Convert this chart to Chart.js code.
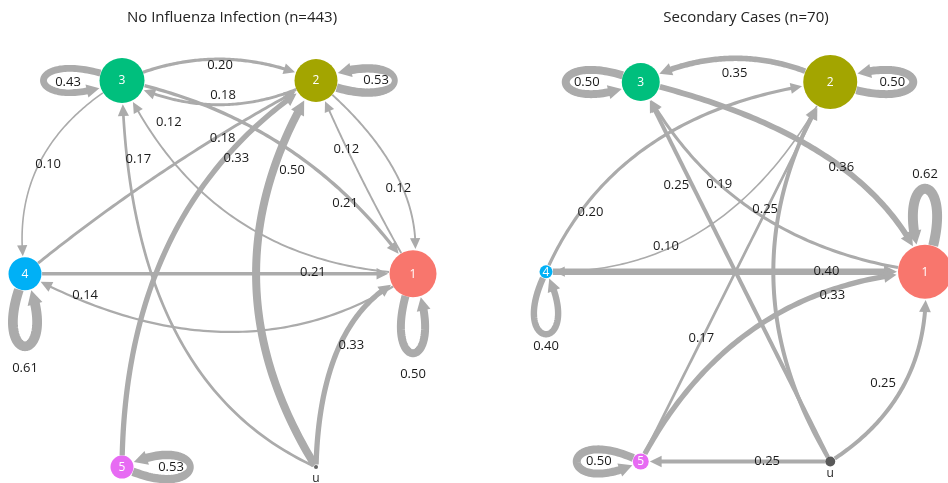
<!DOCTYPE html>
<html>
<head>
<meta charset="utf-8">
<script src="https://cdn.jsdelivr.net/npm/chart.js@4.4.0/dist/chart.umd.min.js"></script>
<style>
  body { margin: 0; background: #fff; }
  #wrap { position: relative; width: 948px; height: 483px; }
  #wrap canvas { position: absolute; top: 0; }
</style>
</head>
<body>
<div id="wrap">
  <canvas id="noFlu" width="474" height="483" style="left:0"></canvas>
  <canvas id="secondary" width="474" height="483" style="left:474px"></canvas>
</div>
<script>
// nodes sit on a circle, node k at k*60 degrees
const nodeIds = ["1", "2", "3", "4", "5", "u"];
const layoutX = [1, 0.5, -0.5, -1, -0.5, 0.5];
const layoutY = [0, 0.866, 0.866, 0, -0.866, -0.866];
const nodeColors = ["#F8766D", "#A3A500", "#00BF7D", "#00B0F6", "#E76BF3", "#595959"];

// No Influenza Infection (n=443)
const noFluFrom = ["3", "2", "3", "4", "1", "3", "u", "5", "u", "2", "1", "4", "1", "u", "3", "2", "4", "1", "5"];
const noFluTo   = ["2", "3", "4", "2", "3", "1", "3", "2", "2", "1", "2", "1", "4", "1", "3", "2", "4", "1", "5"];
const noFluProb = [0.20, 0.18, 0.10, 0.18, 0.12, 0.21, 0.17, 0.33, 0.50, 0.12, 0.12, 0.21, 0.14, 0.33, 0.43, 0.53, 0.61, 0.50, 0.53];

// Secondary Cases (n=70)
const secFrom = ["2", "3", "1", "u", "u", "5", "4", "2", "4", "5", "u", "u", "3", "2", "1", "4", "5"];
const secTo   = ["3", "1", "3", "3", "2", "2", "2", "4", "1", "1", "1", "5", "3", "2", "1", "4", "5"];
const secProb = [0.35, 0.36, 0.19, 0.25, 0.25, 0.17, 0.20, 0.10, 0.40, 0.33, 0.25, 0.25, 0.50, 0.50, 0.62, 0.40, 0.50];

// drawing styles (curvature, label placement, loop direction) -- not data
const noFluStyle = [
  { bend: 0.22, t: 0.5, dx: 1, dy: 6 },
  { bend: 0.25, t: 0.5, dx: 4, dy: -9 },
  { bend: -0.34, skew: 0.03, t: 0.5, dx: 9, dy: 1 },
  { bend: 0.05, t: 0.68, dx: 4, dy: 2 },
  { bend: 0.3, t: 0.85, dx: 18, dy: -9 },
  { bend: 0.2, t: 0.72, dx: -2, dy: 7 },
  { bend: 0.3, skew: -0.13, t: 0.86, dx: 11, dy: -1 },
  { bend: 0.27, skew: 0.05, t: 0.73, dx: 10, dy: 2 },
  { bend: 0.31, t: 0.75, dx: 21, dy: -7 },
  { bend: 0.275, skew: 0.1375, t: 0.55, dx: -4, dy: 2 },
  { bend: 0.03, t: 0.66, dx: 0, dy: 2 },
  { bend: 0, t: 0.742, dx: 0, dy: -1 },
  { bend: 0.3, skew: -0.06, t: 0.85, dx: -4, dy: -8 },
  { bend: 0.31, skew: 0.16, t: 0.5, dx: 9, dy: 5 },
  { loop: 180, lab: 54, dy: 2 },
  { loop: 0, lab: 60 },
  { loop: 90, lab: 95 },
  { loop: 90, lab: 101 },
  { loop: 0, lab: 49 }
];
const secStyle = [
  { bend: -0.25, t: 0.5, dx: -1, dy: 15 },
  { bend: 0.24, skew: 0.154, t: 0.55, dx: 0, dy: 0 },
  { bend: 0.26, skew: 0.02, t: 0.65, dx: 4, dy: 4 },
  { bend: 0, t: 0.728, dx: -16, dy: 0 },
  { bend: 0.3, t: 0.66, dx: -14, dy: -2 },
  { bend: 0, t: 0.325, dx: -1, dy: 0 },
  { bend: 0.28, skew: -0.06, t: 0.22, dx: 6, dy: 6 },
  { bend: 0.307, skew: 0.062, t: 0.65, dx: 2, dy: -4 },
  { bend: 0, t: 0.74, dx: 0, dy: 0 },
  { bend: 0.279, skew: 0.014, t: 0.74, dx: 0, dy: 6 },
  { bend: -0.3, t: 0.45, dx: -18, dy: -7 },
  { bend: 0, t: 0.333, dx: 0, dy: 0 },
  { loop: 180, lab: 54 },
  { loop: 0, lab: 62 },
  { loop: 270, lab: 97 },
  { loop: 90, lab: 75 },
  { loop: 180, lab: 42 }
];

const FONT = "'Open Sans', 'Noto Sans', sans-serif";
const EDGE = "#ABABAB";

function quadEdge(p0, p2, st) {
  const dx = p2.x - p0.x, dy = p2.y - p0.y, sk = st.skew || 0;
  const c = {
    x: (p0.x + p2.x) / 2 + st.bend * dy + sk * dx,
    y: (p0.y + p2.y) / 2 - st.bend * dx + sk * dy
  };
  return t => {
    const m = 1 - t;
    return { x: m * m * p0.x + 2 * m * t * c.x + t * t * p2.x,
             y: m * m * p0.y + 2 * m * t * c.y + t * t * p2.y };
  };
}

function loopEdge(p, r, deg) {
  const a = deg * Math.PI / 180;
  const reach = (r + 56) / 0.75;
  const side = 42;
  const spread = Math.atan2(side, reach);
  const len = Math.hypot(reach, side);
  const c1 = { x: p.x + len * Math.cos(a + spread), y: p.y + len * Math.sin(a + spread) };
  const c2 = { x: p.x + len * Math.cos(a - spread), y: p.y + len * Math.sin(a - spread) };
  return t => {
    const m = 1 - t, k0 = m * m * m + t * t * t, k1 = 3 * m * m * t, k2 = 3 * m * t * t;
    return { x: k0 * p.x + k1 * c1.x + k2 * c2.x, y: k0 * p.y + k1 * c1.y + k2 * c2.y };
  };
}

const dist = (a, b) => Math.hypot(a.x - b.x, a.y - b.y);

function strokeEdge(ctx, f, p0, r0, p2, r2, w) {
  let t0 = 0;
  while (t0 < 1 && dist(f(t0), p0) < r0) t0 += 0.002;
  let tip = 1;
  while (tip > t0 && dist(f(tip), p2) < r2 + 1) tip -= 0.002;
  const aLen = 10 + w * 0.4, aHalf = 4.5 + w * 0.3;
  const P = f(tip);
  let tb = tip;
  while (tb > t0 && dist(f(tb), P) < aLen) tb -= 0.002;
  const B = f(tb);

  ctx.lineWidth = w;
  ctx.beginPath();
  const end = tb + (tip - tb) * 0.3;
  for (let i = 0; i <= 80; i++) {
    const q = f(t0 + (end - t0) * i / 80);
    if (i === 0) ctx.moveTo(q.x, q.y); else ctx.lineTo(q.x, q.y);
  }
  ctx.stroke();

  const ux = (P.x - B.x) / aLen, uy = (P.y - B.y) / aLen;
  ctx.beginPath();
  ctx.moveTo(P.x, P.y);
  ctx.lineTo(B.x - uy * aHalf, B.y + ux * aHalf);
  ctx.lineTo(B.x + uy * aHalf, B.y - ux * aHalf);
  ctx.closePath();
  ctx.fill();
}

function graphPlugin(panel) {
  const geom = chart => {
    const pts = chart.getDatasetMeta(0).data;
    return panel.from.map((s, i) => {
      const a = nodeIds.indexOf(s), b = nodeIds.indexOf(panel.to[i]);
      const st = panel.style[i];
      const p0 = { x: pts[a].x, y: pts[a].y }, p2 = { x: pts[b].x, y: pts[b].y };
      const f = st.loop !== undefined ? loopEdge(p0, panel.radius[a], st.loop) : quadEdge(p0, p2, st);
      return { a, b, st, p0, p2, f, w: 16 * panel.prob[i] };
    });
  };
  return {
    id: "graph",
    beforeDatasetsDraw(chart) {
      const ctx = chart.ctx;
      ctx.save();
      ctx.strokeStyle = EDGE;
      ctx.fillStyle = EDGE;
      ctx.lineCap = "butt";
      ctx.lineJoin = "round";
      geom(chart).forEach(e => {
        strokeEdge(ctx, e.f, e.p0, panel.radius[e.a], e.p2, panel.radius[e.b], e.w);
      });
      ctx.restore();
    },
    afterDatasetsDraw(chart) {
      const ctx = chart.ctx;
      const pts = chart.getDatasetMeta(0).data;
      ctx.save();
      ctx.textAlign = "center";
      ctx.textBaseline = "middle";
      // edge labels
      ctx.font = "13px " + FONT;
      geom(chart).forEach((e, i) => {
        const st = e.st, txt = panel.prob[i].toFixed(2);
        let x, y;
        if (st.loop !== undefined) {
          const a = st.loop * Math.PI / 180;
          x = e.p0.x + st.lab * Math.cos(a) + (st.dx || 0);
          y = e.p0.y + st.lab * Math.sin(a) + (st.dy || 0);
          const tw = ctx.measureText(txt).width;
          ctx.fillStyle = "#fff";
          ctx.beginPath();
          ctx.ellipse(x, y, tw / 2 + 3, 7, 0, 0, Math.PI * 2);
          ctx.fill();
        } else {
          const q = e.f(st.t);
          x = q.x + (st.dx || 0);
          y = q.y + (st.dy || 0);
        }
        ctx.fillStyle = "#1a1a1a";
        ctx.fillText(txt, x, y);
      });
      // node labels
      ctx.font = "12px " + FONT;
      nodeIds.forEach((id, i) => {
        if (id === "u") {
          ctx.fillStyle = "#222";
          ctx.fillText(id, pts[i].x, pts[i].y + 12);
        } else {
          ctx.fillStyle = "#fff";
          ctx.fillText(id, pts[i].x, pts[i].y + 0.5);
        }
      });
      // panel title
      ctx.font = "15px " + FONT;
      ctx.fillStyle = "#222";
      ctx.fillText(panel.title, panel.titleX, 18);
      ctx.restore();
    }
  };
}

function makeGraph(id, panel) {
  return new Chart(document.getElementById(id), {
    type: "scatter",
    data: {
      datasets: [{
        data: nodeIds.map((n, i) => ({ x: layoutX[i], y: layoutY[i] })),
        pointRadius: panel.radius,
        pointHoverRadius: panel.radius,
        pointBackgroundColor: nodeColors.map((c, i) => panel.uColor && nodeIds[i] === "u" ? panel.uColor : c),
        pointBorderWidth: 0,
        clip: false
      }]
    },
    options: {
      responsive: false,
      animation: false,
      events: [],
      layout: { padding: 0, autoPadding: false },
      scales: {
        x: { type: "linear", display: false, min: panel.xRange[0], max: panel.xRange[1] },
        y: { type: "linear", display: false, min: panel.yRange[0], max: panel.yRange[1] }
      },
      plugins: { legend: { display: false }, tooltip: { enabled: false } }
    },
    plugins: [graphPlugin(panel)]
  });
}

makeGraph("noFlu", {
  title: "No Influenza Infection (n=443)", titleX: 232,
  from: noFluFrom, to: noFluTo, prob: noFluProb, style: noFluStyle,
  radius: [23.5, 21.5, 22.5, 16.5, 11.5, 2],
  uColor: "#666666",
  xRange: [-1.1289, 1.3144], yRange: [-0.9375, 1.2267]
});

makeGraph("secondary", {
  title: "Secondary Cases (n=70)", titleX: 272,
  from: secFrom, to: secTo, prob: secProb, style: secStyle,
  radius: [27, 27, 19, 6.5, 8, 5],
  xRange: [-1.380, 1.1214], yRange: [-0.9642, 1.2403]
});
</script>
</body>
</html>
